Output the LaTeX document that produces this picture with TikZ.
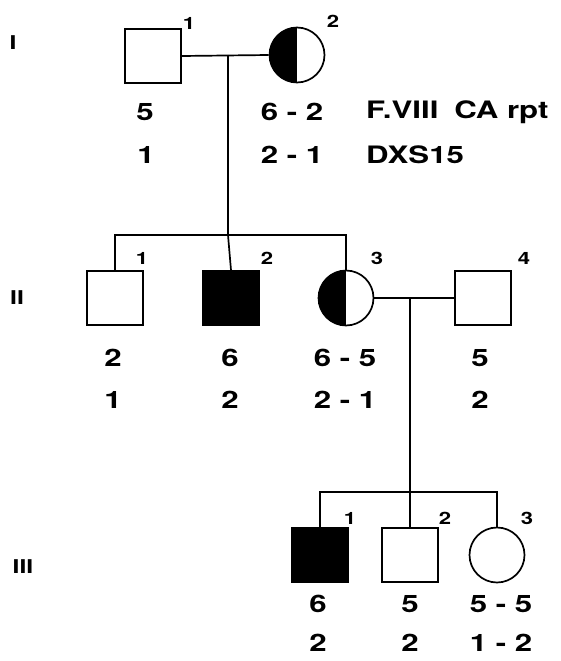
\documentclass[tikz,border=0pt]{standalone}
\usepackage{fontspec}
\setmainfont{TeX Gyre Heros}
\newfontfamily\pedfont[FakeStretch=1.3]{TeX Gyre Heros}
\usetikzlibrary{positioning}

\begin{document}
\begin{tikzpicture}[
    x=1pt, y=-1pt,
    male/.style={rectangle, draw=black, line width=1.7pt, minimum width=56pt, minimum height=54pt, inner sep=0pt},
    female/.style={circle, draw=black, line width=1.7pt, minimum size=55pt, inner sep=0pt},
    affected/.style={fill=black},
    carrier/.style={path picture={\fill[black] (path picture bounding box.north) rectangle (path picture bounding box.south west);}},
    idnum/.style={font=\pedfont\bfseries\fontsize{17}{17}\selectfont, inner sep=0pt},
    allele/.style={font=\pedfont\bfseries\fontsize{24}{24}\selectfont, inner sep=0pt},
    gen/.style={font=\pedfont\bfseries\fontsize{19}{19}\selectfont, inner sep=0pt},
    link/.style={line width=1.7pt}
]
\useasboundingbox (0,0) rectangle (561,661);

% Generation I
\node[gen] (gI) at (13,43) {I};
\node[male] (i1) at (153,56) {};
\node[female, carrier] (i2) at (297,55) {};
\node[idnum] (n11) at (189,23) {1};
\node[idnum] (n12) at (333,21) {2};

\node[allele] (a11) at (145,112) {5};
\node[allele] (b11) at (146,155) {1};
\node[allele] (a12) at (292,112) {6 - 2};
\node[allele] (b12) at (292,155) {2 - 1};
\node[allele, anchor=west] (mk1) at (366,112) {F.VIII\hspace{0.3em} CA rpt};
\node[allele, anchor=west] (mk2) at (366,155) {DXS15};

% Generation II
\node[gen] (gII) at (17,298) {II};
\node[male] (ii1) at (115,298) {};
\node[male, affected] (ii2) at (231,298) {};
\node[female, carrier] (ii3) at (346,298) {};
\node[male] (ii4) at (483,298) {};
\node[idnum] (n21) at (142,258) {1};
\node[idnum] (n22) at (267,258) {2};
\node[idnum] (n23) at (377,258) {3};
\node[idnum] (n24) at (524,258) {4};

\node[allele] (a21) at (113,358) {2};
\node[allele] (b21) at (113,400) {1};
\node[allele] (a22) at (230,358) {6};
\node[allele] (b22) at (230,400) {2};
\node[allele] (a23) at (345,358) {6 - 5};
\node[allele] (b23) at (345,400) {2 - 1};
\node[allele] (a24) at (480,358) {5};
\node[allele] (b24) at (480,400) {2};

% Generation III
\node[gen] (gIII) at (23,567) {III};
\node[male, affected] (iii1) at (320,555) {};
\node[male] (iii2) at (410,555) {};
\node[female] (iii3) at (497,555) {};
\node[idnum] (n31) at (350,518) {1};
\node[idnum] (n32) at (445,518) {2};
\node[idnum] (n33) at (527,518) {3};

\node[allele] (a31) at (318,604) {6};
\node[allele] (b31) at (318,643) {2};
\node[allele] (a32) at (410,604) {5};
\node[allele] (b32) at (410,643) {2};
\node[allele] (a33) at (501,604) {5 - 5};
\node[allele] (b33) at (501,643) {1 - 2};

% Lines of descent
\coordinate (m1) at (228,55);
\coordinate (s2) at (228,235);
\draw[link] (i1.east) -- (i2.west);
\draw[link] (m1) -- (s2);
\draw[link] (ii1.north) |- (s2) -| (ii3.north);
\draw[link] (s2) -- (ii2.north);

\coordinate (m2) at (410,298);
\coordinate (s3) at (410,492);
\draw[link] (ii3.east) -- (ii4.west);
\draw[link] (m2) -- (s3);
\draw[link] (iii1.north) |- (s3) -| (iii3.north);
\draw[link] (s3) -- (iii2.north);

\end{tikzpicture}
\end{document}
